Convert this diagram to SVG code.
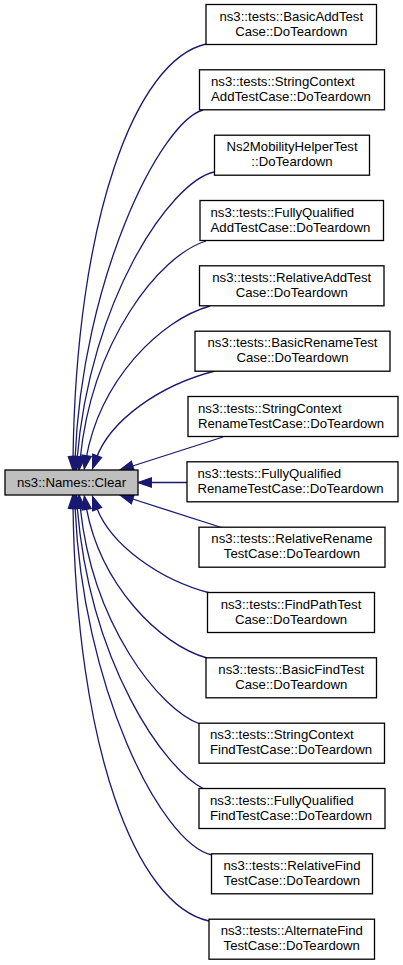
<svg xmlns="http://www.w3.org/2000/svg" width="403" height="965" viewBox="0 0 403 965">
<style>
.node rect{fill:#ffffff;stroke:#000000;stroke-width:1.3}
.main rect{fill:#bfbfbf}
text{font-family:"Liberation Sans",Arial,sans-serif;font-size:13.2px;fill:#000000}
.c{text-anchor:middle}
.l{text-anchor:start}
.edges path{fill:none;stroke:#191970;stroke-width:1.3}
.edges polygon{fill:#191970;stroke:#191970;stroke-width:1.3}
</style>
<rect width="403" height="965" fill="#ffffff"/>
<g class="edges" id="edges">
<path d="M206,44 C135,60 76,220 73,460"/><polygon points="72.9,470 68.4,456.6 77.8,456.8"/>
<path d="M203,110 C160,122 82,280 75,460"/><polygon points="74.6,470 70.4,456.5 79.8,456.9"/>
<path d="M214,172 C170,182 90,300 77,460"/><polygon points="76.2,470 72.6,456.3 82,457.1"/>
<path d="M206,241 C160,255 92,340 80,460"/><polygon points="79,470 75.6,456.3 85,457.3"/>
<path d="M210,306 C160,320 100,380 86,459"/><polygon points="84.3,468.9 82,455 91.2,456.6"/>
<path d="M215,371 C160,385 110,420 96,459"/><polygon points="92.6,468.4 92.7,454.3 101.5,457.5"/>
<path d="M223,437 L129.5,467"/><polygon points="120,470 131.3,461.4 134.1,470.4"/>
<path d="M187,482.5 L148,482.5"/><polygon points="138,482.5 151.3,477.8 151.3,487.2"/>
<path d="M223,528 L129.5,498"/><polygon points="120,495 131.3,503.6 134.1,494.6"/>
<path d="M210,593 C160,580 110,545 96,506"/><polygon points="92.6,496.6 92.7,510.7 101.5,507.5"/>
<path d="M207,658 C160,645 100,585 86,506"/><polygon points="84.3,496.1 82,510 91.2,508.4"/>
<path d="M200,724 C160,710 92,625 80,505"/><polygon points="79,495 75.6,508.7 85,507.7"/>
<path d="M204,789 C165,770 90,665 77,505"/><polygon points="76.2,495 72.6,508.7 82,507.9"/>
<path d="M212,855 C160,843 82,685 75,505"/><polygon points="74.6,495 70.4,508.5 79.8,508.1"/>
<path d="M209,921 C135,905 76,745 73,505"/><polygon points="72.9,495 68.4,508.4 77.8,508.2"/>
</g>
<g class="node main" id="node_clear"><rect x="5" y="470" width="133" height="25"/><text class="c" x="71.5" y="486.7">ns3::Names::Clear</text></g>
<g class="node" id="node1"><rect x="206" y="4.5" width="170.5" height="40"/><text class="c" x="291.25" y="20.7">ns3::tests::BasicAddTest</text><text class="c" x="291.25" y="35.7">Case::DoTeardown</text></g>
<g class="node" id="node2"><rect x="199.5" y="69.8" width="185" height="40"/><text class="l" x="211" y="86">ns3::tests::StringContext</text><text class="l" x="211" y="101">AddTestCase::DoTeardown</text></g>
<g class="node" id="node3"><rect x="214.5" y="135.2" width="155" height="40"/><text class="c" x="292" y="151.4">Ns2MobilityHelperTest</text><text class="c" x="292" y="166.4">::DoTeardown</text></g>
<g class="node" id="node4"><rect x="200" y="200.5" width="183.5" height="40"/><text class="l" x="210.5" y="216.7">ns3::tests::FullyQualified</text><text class="l" x="210.5" y="231.7">AddTestCase::DoTeardown</text></g>
<g class="node" id="node5"><rect x="199.5" y="265.8" width="184.5" height="40"/><text class="c" x="291.75" y="282">ns3::tests::RelativeAddTest</text><text class="c" x="291.75" y="297">Case::DoTeardown</text></g>
<g class="node" id="node6"><rect x="195" y="331.2" width="195" height="40"/><text class="c" x="292.5" y="347.4">ns3::tests::BasicRenameTest</text><text class="c" x="292.5" y="362.4">Case::DoTeardown</text></g>
<g class="node" id="node7"><rect x="188" y="396.5" width="210" height="40"/><text class="l" x="198" y="412.7">ns3::tests::StringContext</text><text class="l" x="198" y="427.7">RenameTestCase::DoTeardown</text></g>
<g class="node" id="node8"><rect x="187" y="461.8" width="211" height="40"/><text class="l" x="197.5" y="478">ns3::tests::FullyQualified</text><text class="l" x="197.5" y="493">RenameTestCase::DoTeardown</text></g>
<g class="node" id="node9"><rect x="199" y="527.2" width="186" height="40"/><text class="c" x="292" y="543.4">ns3::tests::RelativeRename</text><text class="c" x="292" y="558.4">TestCase::DoTeardown</text></g>
<g class="node" id="node10"><rect x="207.5" y="592.5" width="167" height="40"/><text class="c" x="291" y="608.7">ns3::tests::FindPathTest</text><text class="c" x="291" y="623.7">Case::DoTeardown</text></g>
<g class="node" id="node11"><rect x="206" y="657.8" width="170.5" height="40"/><text class="c" x="291.25" y="674">ns3::tests::BasicFindTest</text><text class="c" x="291.25" y="689">Case::DoTeardown</text></g>
<g class="node" id="node12"><rect x="199" y="723.2" width="185.5" height="40"/><text class="l" x="210" y="739.4">ns3::tests::StringContext</text><text class="l" x="210" y="754.4">FindTestCase::DoTeardown</text></g>
<g class="node" id="node13"><rect x="199" y="788.5" width="186" height="40"/><text class="l" x="210" y="804.7">ns3::tests::FullyQualified</text><text class="l" x="210" y="819.7">FindTestCase::DoTeardown</text></g>
<g class="node" id="node14"><rect x="211.5" y="853.8" width="161" height="40"/><text class="c" x="292" y="870">ns3::tests::RelativeFind</text><text class="c" x="292" y="885">TestCase::DoTeardown</text></g>
<g class="node" id="node15"><rect x="209" y="919.2" width="165.5" height="40"/><text class="c" x="291.75" y="935.4">ns3::tests::AlternateFind</text><text class="c" x="291.75" y="950.4">TestCase::DoTeardown</text></g>
</svg>
